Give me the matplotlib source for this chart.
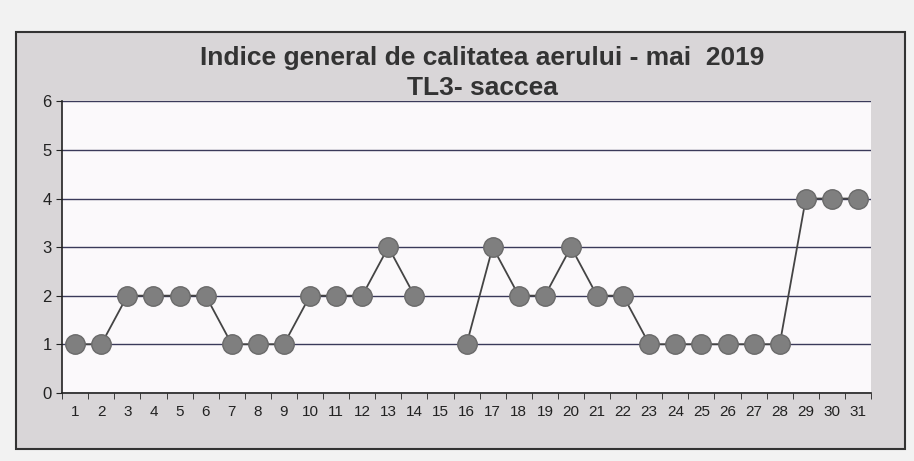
import numpy as np
import matplotlib.pyplot as plt
from matplotlib.patches import Rectangle

days = list(range(1, 32))
# day 15 has no value
index_vals = [1, 1, 2, 2, 2, 2, 1, 1, 1, 2, 2, 2, 3, 2, np.nan, 1, 3, 2, 2, 3,
              2, 2, 1, 1, 1, 1, 1, 1, 4, 4, 4]
title_lines = ['Indice general de calitatea aerului - mai  2019', 'TL3- saccea']

plt.rcParams['font.family'] = ['Liberation Sans', 'DejaVu Sans']

fig = plt.figure(figsize=(9.14, 4.61), dpi=100)
fig.patch.set_facecolor('#f2f2f2')

# outer chart frame, kept behind the axes
frame = Rectangle((0.018, 0.025), 0.972, 0.905, transform=fig.transFigure,
                  facecolor='#d9d6d8', edgecolor='#333333', lw=1.5, zorder=-5)
fig.patches.append(frame)

ax = fig.add_axes([0.068, 0.148, 0.885, 0.632])
ax.set_zorder(1)
ax.set_facecolor('#fbf9fb')

ax.plot(days, index_vals, color='#444444', lw=1.3, marker='o', markersize=14,
        markerfacecolor='#7f7f7f', markeredgecolor='#6a6a6a', zorder=3)

ax.set_xlim(0.5, 31.5)
ax.set_ylim(0, 6)
ax.set_yticks(range(0, 7))
ax.yaxis.grid(True, color='#3a3a5a', lw=1.0)
ax.set_axisbelow(True)
ax.set_xticks(days)
ax.set_xticks(np.arange(0.5, 32, 1), minor=True)
ax.tick_params(axis='x', which='major', length=0, labelsize=11, pad=9, colors='#222222')
ax.tick_params(axis='x', which='minor', length=4, direction='out', color='#222222')
ax.tick_params(axis='y', length=4, labelsize=12, colors='#222222')

for side in ['top', 'right']:
    ax.spines[side].set_visible(False)
ax.spines['left'].set_color('#222222')
ax.spines['bottom'].set_color('#222222')
ax.spines['left'].set_linewidth(1.2)
ax.spines['bottom'].set_linewidth(1.2)

fig.text(0.528, 0.874, title_lines[0], ha='center', va='center', fontsize=19,
         fontweight='bold', color='#333333', zorder=5)
fig.text(0.528, 0.81, title_lines[1], ha='center', va='center', fontsize=19,
         fontweight='bold', color='#333333', zorder=5)

fig.savefig('out.png', dpi=100)
